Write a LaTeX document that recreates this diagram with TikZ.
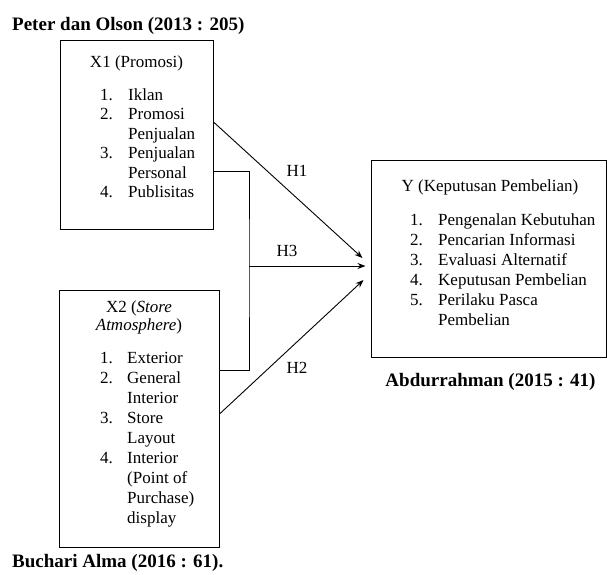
\documentclass[tikz,border=0pt]{standalone}
\usepackage{fontspec}
\setmainfont{Liberation Serif}
\usetikzlibrary{arrows.meta}
\begin{document}
\begin{tikzpicture}[x=1pt,y=-1pt,
  box/.style={draw=black, line width=1pt, inner sep=0pt},
  body/.style={font=\fontsize{17}{19.5}\selectfont, inner sep=0pt},
  ttl/.style={font=\fontsize{19}{22}\selectfont\bfseries, inner sep=0pt},
  conn/.style={line width=0.9pt},
  arr/.style={conn, -{Stealth[length=8pt,width=6pt]}},
]
\useasboundingbox (0,0) rectangle (607,574);

% boxes
\node[box, minimum width=153pt, minimum height=189pt] (x1) at (136.5,134.5) {};
\node[box, minimum width=160pt, minimum height=257pt] (x2) at (139,418.5) {};
\node[box, minimum width=235pt, minimum height=197pt] (y) at (488.5,258.5) {};

% titles
\node[ttl, anchor=base west] (src1) at (12,30) {Peter dan Olson (2013 : 205)};
\node[ttl, anchor=base west] (src2) at (12,567) {Buchari Alma (2016 : 61).};
\node[ttl, anchor=base] (src3) at (490.5,386) {Abdurrahman (2015 : 41)};

% X1 content
\node[body, anchor=base] (x1t) at (136.5,67) {X1 (Promosi)};
\node[body, anchor=base west] (x1l) at (100,100) {\begin{tabular}[t]{@{}p{28pt}@{}l@{}}
1.&Iklan\\
2.&Promosi\\
&Penjualan\\
3.&Penjualan\\
&Personal\\
4.&Publisitas
\end{tabular}};

% X2 content
\node[body, anchor=base, font=\fontsize{17}{18.5}\selectfont] (x2t) at (139,312) {\begin{tabular}[t]{@{}c@{}}
X2 (\textit{Store}\\
\textit{Atmosphere})
\end{tabular}};
\node[body, font=\fontsize{17}{20}\selectfont, anchor=base west] (x2l) at (100,363) {\begin{tabular}[t]{@{}p{27pt}@{}l@{}}
1.&Exterior\\
2.&General\\
&Interior\\
3.&Store\\
&Layout\\
4.&Interior\\
&(Point of\\
&Purchase)\\
&display
\end{tabular}};

% Y content
\node[body, anchor=base] (yt) at (490,191) {Y (Keputusan Pembelian)};
\node[body, font=\fontsize{17}{20}\selectfont, anchor=base west] (yl) at (410,225) {\begin{tabular}[t]{@{}p{28pt}@{}l@{}}
1.&Pengenalan Kebutuhan\\
2.&Pencarian Informasi\\
3.&Evaluasi Alternatif\\
4.&Keputusan Pembelian\\
5.&Perilaku Pasca\\
&Pembelian
\end{tabular}};

% connectors
\coordinate (t1) at ([xshift=-8pt,yshift=0.5pt]y.west);
\coordinate (t3) at ([xshift=-5pt,yshift=-7.5pt]y.west);
\coordinate (t2) at ([xshift=-7pt,yshift=-21.5pt]y.west);
\coordinate (j) at (249,266);

\draw[arr] ([yshift=12.5pt]x1.east) -- (t1);
\draw[conn] ([yshift=-36.5pt]x1.east) -| (j) |- ([yshift=48.5pt]x2.east);
\draw[arr] (j) -- (t3);
\draw[arr] ([yshift=4.5pt]x2.east) -- (t2);

% labels
\node[body] (lh1) at (297,171) {H1};
\node[body] (lh3) at (287,251) {H3};
\node[body] (lh2) at (297,368) {H2};
\end{tikzpicture}
\end{document}
